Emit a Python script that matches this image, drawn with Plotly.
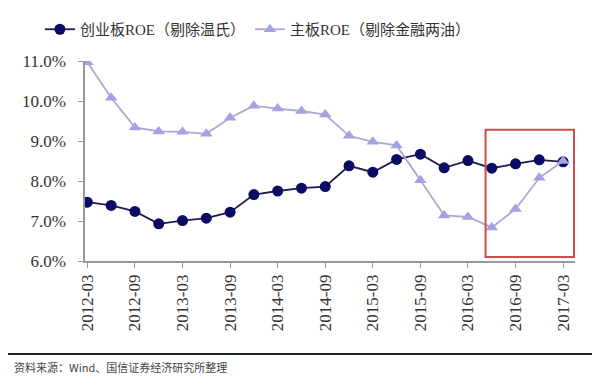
import plotly.graph_objects as go

categories = ["2012-03", "2012-06", "2012-09", "2012-12",
              "2013-03", "2013-06", "2013-09", "2013-12",
              "2014-03", "2014-06", "2014-09", "2014-12",
              "2015-03", "2015-06", "2015-09", "2015-12",
              "2016-03", "2016-06", "2016-09", "2016-12",
              "2017-03"]
chinext_roe = [7.47, 7.39, 7.24, 6.93, 7.01, 7.07, 7.22, 7.66, 7.75, 7.82, 7.86,
               8.38, 8.22, 8.54, 8.67, 8.33, 8.51, 8.32, 8.43, 8.53, 8.48]
main_roe = [10.97, 10.08, 9.34, 9.24, 9.23, 9.18, 9.58, 9.88, 9.81, 9.75, 9.66,
            9.13, 8.98, 8.89, 8.02, 7.14, 7.10, 6.84, 7.30, 8.08, 8.50]
series_names = ["创业板ROE（剔除温氏）", "主板ROE（剔除金融两油）"]
tick_vals_y = [6, 7, 8, 9, 10, 11]
tick_text_y = ["6.0%", "7.0%", "8.0%", "9.0%", "10.0%", "11.0%"]
x_tick_labels = categories[::2]
highlight_from = "2016-06"
highlight_to = "2017-03"
source_note = "资料来源：Wind、国信证券经济研究所整理"

SERIF = "Liberation Serif, Times New Roman, serif"

fig = go.Figure()
fig.add_trace(go.Scatter(
    x=categories, y=chinext_roe, name=series_names[0], mode="lines+markers",
    line=dict(color="#1c1c4e", width=1.8),
    marker=dict(symbol="circle", size=11, color="#0b0b63",
                line=dict(color="#0b0b63", width=0)),
))
fig.add_trace(go.Scatter(
    x=categories, y=main_roe, name=series_names[1], mode="lines+markers",
    line=dict(color="#a9a9d6", width=1.8),
    marker=dict(symbol="triangle-up", size=11, color="#a3a3e0",
                line=dict(color="#a3a3e0", width=0)),
))

i0 = categories.index(highlight_from)
i1 = categories.index(highlight_to)
fig.add_shape(type="rect", xref="x", yref="y",
              x0=i0 - 0.26, x1=i1 + 0.46, y0=6.1, y1=9.28,
              line=dict(color="#cc4b4b", width=2), fillcolor="rgba(0,0,0,0)")

# footer rule and source text
fig.add_shape(type="line", xref="paper", yref="paper",
              x0=-0.173, x1=1.043, y0=-0.465, y1=-0.465,
              line=dict(color="#222222", width=2))
fig.add_annotation(text=source_note, xref="paper", yref="paper",
                   x=-0.149, y=-0.53, xanchor="left", yanchor="middle",
                   showarrow=False,
                   font=dict(family="Noto Sans CJK SC", size=11, color="#444444"))

# the page body adds an 8px offset; size the figure to fit the window
fig.update_layout(
    width=592, height=380,
    margin=dict(l=77, r=25, t=53, b=127, autoexpand=False),
    paper_bgcolor="white", plot_bgcolor="white",
    showlegend=True,
    legend=dict(orientation="h", x=-0.092, y=1.24, xanchor="left", yanchor="top",
                font=dict(family="Liberation Serif, Noto Sans CJK SC", size=15,
                          color="#333333"),
                itemwidth=30, tracegroupgap=0, bgcolor="rgba(0,0,0,0)"),
    xaxis=dict(type="category", range=[-0.1, 20.5],
               tickmode="array", tickvals=x_tick_labels, ticktext=x_tick_labels,
               tickangle=-90, ticks="outside", ticklen=5, tickcolor="#999999",
               showline=True, linecolor="#999999", linewidth=1.5,
               showgrid=False, zeroline=False,
               tickfont=dict(family=SERIF, size=17, color="#333333")),
    yaxis=dict(range=[6, 11], tickmode="array", tickvals=tick_vals_y,
               ticktext=tick_text_y, ticks="outside", ticklen=5, tickcolor="#999999",
               showline=True, linecolor="#999999", linewidth=1.5,
               showgrid=False, zeroline=False, ticklabelstandoff=9,
               tickfont=dict(family=SERIF, size=17, color="#333333")),
)

fig.write_html("out.html")
